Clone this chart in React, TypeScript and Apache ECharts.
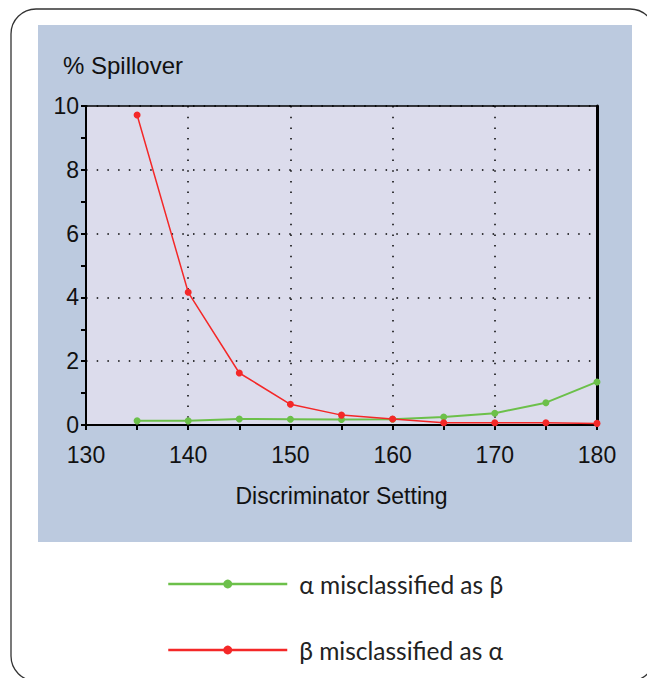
import React, { useEffect, useRef } from "react";
import * as echarts from "echarts";

const settings = [135, 140, 145, 150, 155, 160, 165, 170, 175, 180];
const alphaAsBeta = [0.13, 0.13, 0.19, 0.18, 0.17, 0.18, 0.25, 0.37, 0.7, 1.35];
const betaAsAlpha = [9.72, 4.16, 1.63, 0.65, 0.31, 0.19, 0.07, 0.07, 0.07, 0.05];
const seriesNames = ["α misclassified as β", "β misclassified as α"];
const yTitle = "% Spillover";
const xTitle = "Discriminator Setting";

const FONT = "Liberation Sans";

export default function App() {
  const ref = useRef<HTMLDivElement>(null);
  useEffect(() => {
    if (!ref.current) return;
    const chart = echarts.init(ref.current, undefined, { renderer: "svg" });
    const dotted = { color: "#000", width: 1.5, type: [1.5, 9.2] as number[] };
    chart.setOption({
      animation: false,
      backgroundColor: "#fff",
      graphic: [
        {
          type: "rect",
          z: -10,
          shape: { x: 11, y: 9, width: 644, height: 672, r: 25 },
          style: { fill: "#fff", stroke: "#333", lineWidth: 1.3 },
        },
        {
          type: "rect",
          z: -9,
          shape: { x: 38, y: 25, width: 594, height: 517 },
          style: { fill: "#bccadf" },
        },
      ],
      title: {
        text: yTitle,
        left: 63,
        top: 53,
        padding: 0,
        textStyle: { fontFamily: FONT, fontSize: 24, fontWeight: "normal", color: "#111" },
      },
      grid: {
        left: 86,
        right: 50,
        top: 106,
        bottom: 253,
        show: true,
        backgroundColor: "#dcdcec",
        borderColor: "#000",
        borderWidth: 1.5,
      },
      legend: {
        orient: "vertical",
        left: 167,
        top: 570,
        padding: 0,
        itemWidth: 119,
        itemHeight: 11,
        itemGap: 38,
        data: seriesNames,
        lineStyle: { width: 2.5 },
        textStyle: {
          fontFamily: "Lato",
          fontSize: 24.5,
          lineHeight: 28,
          color: "#222",
          padding: [0, 0, 0, 7],
        },
      },
      xAxis: {
        type: "value",
        min: 130,
        max: 180,
        interval: 10,
        name: xTitle,
        nameLocation: "middle",
        nameGap: 59,
        nameTextStyle: { fontFamily: FONT, fontSize: 23, color: "#111" },
        axisLine: { show: true, lineStyle: { color: "#000", width: 2 } },
        axisTick: { show: true, length: 5, lineStyle: { color: "#000", width: 2 } },
        minorTick: { show: true, splitNumber: 2, length: 5, lineStyle: { color: "#000", width: 2 } },
        axisLabel: { fontFamily: FONT, fontSize: 23, color: "#111", margin: 18 },
        splitLine: { show: true, lineStyle: dotted },
      },
      yAxis: [
        {
          type: "value",
          min: 0,
          max: 10,
          interval: 2,
          axisLine: { show: true, lineStyle: { color: "#000", width: 2 } },
          axisTick: { show: true, length: 5, lineStyle: { color: "#000", width: 2 } },
          minorTick: { show: true, splitNumber: 2, length: 5, lineStyle: { color: "#000", width: 2 } },
          axisLabel: { fontFamily: FONT, fontSize: 23, color: "#111", margin: 7 },
          splitLine: { show: true, lineStyle: dotted },
        },
        {
          type: "value",
          min: 0,
          max: 10,
          interval: 2,
          position: "right",
          axisLine: { show: true, lineStyle: { color: "#000", width: 3 } },
          axisTick: { show: false },
          axisLabel: { show: false },
          splitLine: { show: false },
        },
      ],
      series: [
        {
          name: seriesNames[0],
          type: "line",
          data: settings.map((x, i) => [x, alphaAsBeta[i]]),
          symbol: "circle",
          symbolSize: 7,
          color: "#6cc04a",
          lineStyle: { width: 2, color: "#6cc04a" },
          itemStyle: { color: "#6cc04a" },
          z: 3,
        },
        {
          name: seriesNames[1],
          type: "line",
          data: settings.map((x, i) => [x, betaAsAlpha[i]]),
          symbol: "circle",
          symbolSize: 7,
          color: "#f42828",
          lineStyle: { width: 1.5, color: "#f42828" },
          itemStyle: { color: "#f42828" },
          z: 4,
        },
      ],
    });
    return () => chart.dispose();
  }, []);
  return (
    <div
      ref={ref}
      style={{ position: "fixed", left: 0, top: 0, width: 647, height: 678 }}
    />
  );
}
